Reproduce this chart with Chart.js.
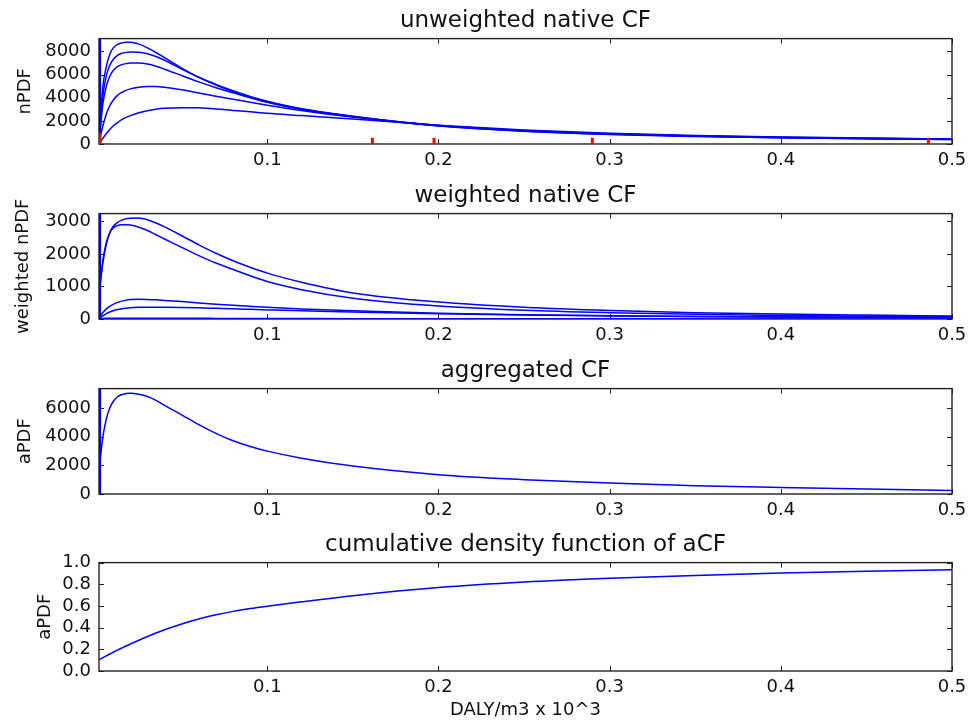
<!DOCTYPE html>
<html>
<head>
<meta charset="utf-8">
<script src="https://cdn.jsdelivr.net/npm/chart.js@4"></script>
<style>
  body { margin: 0; background: #fff; width: 977px; height: 721px; overflow: hidden; position: relative; }
  canvas { position: absolute; left: 0; }
</style>
</head>
<body>
<canvas id="c1" width="977" height="175" style="top:0px"></canvas>
<canvas id="c2" width="977" height="175" style="top:175px"></canvas>
<canvas id="c3" width="977" height="175" style="top:350px"></canvas>
<canvas id="c4" width="977" height="197" style="top:524px"></canvas>
<script>
/* =========================================================
   DATA
========================================================= */
const X_VALS = [0.002, 0.004, 0.006, 0.008, 0.01, 0.0125, 0.015, 0.0175, 0.02, 0.025, 0.03, 0.035, 0.04,
                0.05, 0.06, 0.07, 0.08, 0.09, 0.1, 0.12, 0.15, 0.2, 0.25, 0.3, 0.35, 0.4, 0.45, 0.5];
const X_TICKS = [0.1, 0.2, 0.3, 0.4, 0.5];
const X_TICK_LABELS = ["0.1", "0.2", "0.3", "0.4", "0.5"];

// unweighted native CF
const unwA = [800, 5000, 6700, 7750, 8300, 8600, 8730, 8780, 8780, 8620, 8300, 7900, 7450,
              6550, 5750, 5080, 4520, 4030, 3600, 3000, 2350, 1550, 1100, 820, 650, 530, 450, 380];
const unwB = [750, 4200, 5900, 6800, 7300, 7650, 7830, 7910, 7940, 7930, 7800, 7560, 7230,
              6470, 5760, 5150, 4600, 4110, 3700, 3050, 2400, 1580, 1130, 850, 670, 550, 460, 390];
const unwC = [650, 3500, 5000, 5850, 6350, 6680, 6850, 6940, 6985, 6990, 6900, 6710, 6460,
              5910, 5360, 4860, 4420, 4000, 3620, 3020, 2380, 1590, 1140, 860, 680, 560, 470, 400];
const unwD = [350, 1600, 2600, 3300, 3780, 4200, 4450, 4630, 4760, 4900, 4960, 4960, 4900,
              4680, 4400, 4130, 3870, 3600, 3350, 2900, 2330, 1600, 1160, 880, 700, 580, 490, 420];
const unwE = [100, 500, 900, 1250, 1550, 1850, 2100, 2300, 2450, 2700, 2880, 3000, 3080,
              3140, 3120, 3030, 2900, 2780, 2650, 2450, 2150, 1620, 1200, 920, 730, 600, 510, 440];
const RUG_X = [0.0022, 0.1614, 0.1974, 0.2899, 0.4862];
const RUG_H = [950, 550, 550, 550, 550];

// weighted native CF
const wA = [900, 1750, 2300, 2650, 2850, 2970, 3040, 3080, 3100, 3105, 3050, 2950, 2830,
            2560, 2280, 2020, 1790, 1590, 1410, 1130, 800, 520, 360, 260, 195, 150, 120, 95];
const wB = [900, 1800, 2350, 2650, 2800, 2870, 2895, 2900, 2890, 2820, 2720, 2590, 2460,
            2200, 1950, 1720, 1520, 1330, 1150, 900, 640, 400, 270, 195, 145, 110, 88, 70];
const wC = [60, 200, 310, 390, 450, 510, 550, 580, 598, 607, 600, 588, 572,
            535, 495, 457, 422, 390, 360, 310, 250, 175, 130, 100, 80, 65, 54, 45];
const wD = [30, 100, 165, 215, 255, 290, 315, 332, 345, 358, 364, 365, 363,
            355, 342, 327, 312, 296, 280, 250, 215, 160, 120, 95, 76, 62, 52, 44];
const wE = [10, 16, 20, 23, 25, 26, 26, 26, 26, 25, 25, 24, 24,
            22, 20, 19, 17, 16, 15, 13, 11, 8, 6, 5, 4, 3, 3, 2];

// aggregated CF
const aggr = [2000, 4000, 5250, 6000, 6450, 6780, 6930, 7010, 7030, 6960, 6800, 6530, 6180,
              5520, 4840, 4230, 3710, 3310, 2990, 2500, 1950, 1350, 1000, 760, 580, 450, 340, 250];

// cumulative density function
const cdf = [0.105, 0.123, 0.140, 0.157, 0.173, 0.193, 0.212, 0.231, 0.249, 0.284, 0.318, 0.350, 0.380,
             0.434, 0.480, 0.518, 0.550, 0.576, 0.598, 0.638, 0.695, 0.770, 0.821, 0.856, 0.882, 0.903, 0.920, 0.935];

const EDGE_X = 0.0022;

/* =========================================================
   HELPER
========================================================= */
const FONT = "DejaVu Sans";
const TXT = "#111";
const X_MIN = 0.0017, X_MAX = 0.5;

function pts(ys) {
  return X_VALS.map((x, i) => ({ x, y: ys[i] }));
}

function curve(ys) {
  return {
    data: pts(ys),
    borderColor: "#0000ff",
    borderWidth: 1.5,
    pointRadius: 0,
    cubicInterpolationMode: "monotone",
    fill: false
  };
}

function edgeLine(top) {
  return {
    data: [{ x: EDGE_X, y: 0 }, { x: EDGE_X, y: top }],
    borderColor: "#0000ff",
    borderWidth: 2.5,
    pointRadius: 0
  };
}

function rugMarks() {
  return RUG_X.map((x, i) => ({
    data: [{ x, y: 0 }, { x, y: RUG_H[i] }],
    borderColor: "#ff0000",
    borderWidth: 3,
    pointRadius: 0
  }));
}

// matplotlib style frame with ticks pointing inwards on all four sides
const frameTicks = {
  id: "frameTicks",
  beforeDatasetsDraw(chart) {
    const { ctx, chartArea: a, scales: { x, y } } = chart;
    ctx.save();
    ctx.strokeStyle = "#222";
    ctx.lineWidth = 1;
    ctx.beginPath();
    x.ticks.forEach(t => {
      const px = Math.round(x.getPixelForValue(t.value)) + 0.5;
      ctx.moveTo(px, a.bottom); ctx.lineTo(px, a.bottom - 5);
      ctx.moveTo(px, a.top); ctx.lineTo(px, a.top + 5);
    });
    y.ticks.forEach(t => {
      const py = Math.round(y.getPixelForValue(t.value)) + 0.5;
      ctx.moveTo(a.left, py); ctx.lineTo(a.left + 5, py);
      ctx.moveTo(a.right, py); ctx.lineTo(a.right - 5, py);
    });
    ctx.stroke();
    ctx.lineWidth = 1.4;
    ctx.strokeRect(a.left, a.top, a.right - a.left, a.bottom - a.top);
    ctx.restore();
  }
};

function makeChart(id, cfg) {
  return new Chart(document.getElementById(id), {
    type: "line",
    data: { datasets: cfg.datasets },
    plugins: [frameTicks],
    options: {
      responsive: false,
      animation: false,
      layout: { padding: { left: 0, right: 25, top: 0, bottom: 0 } },
      plugins: {
        legend: { display: false },
        tooltip: { enabled: false },
        title: {
          display: true,
          text: cfg.title,
          fullSize: false,
          color: TXT,
          font: { family: FONT, size: 23, weight: "normal" },
          padding: { top: 7, bottom: 4 }
        }
      },
      scales: {
        x: {
          type: "linear",
          min: X_MIN,
          max: X_MAX,
          grid: { display: false, drawTicks: false },
          border: { display: false },
          afterBuildTicks: s => { s.ticks = X_TICKS.map(v => ({ value: v })); },
          afterFit: s => { s.height = cfg.xHeight; },
          ticks: {
            autoSkip: false,
            maxRotation: 0,
            padding: 6,
            color: TXT,
            font: { family: FONT, size: 18 },
            callback: (v, i) => X_TICK_LABELS[i]
          },
          title: {
            display: !!cfg.xTitle,
            text: cfg.xTitle || "",
            color: TXT,
            font: { family: FONT, size: 18 },
            padding: { top: 0, bottom: 0 }
          }
        },
        y: {
          min: 0,
          max: cfg.yMax,
          grid: { display: false, drawTicks: false },
          border: { display: false },
          afterBuildTicks: s => { s.ticks = cfg.yTicks.map(v => ({ value: v })); },
          afterFit: s => { s.width = 99; },
          ticks: {
            autoSkip: false,
            padding: 8,
            color: TXT,
            font: { family: FONT, size: 18 },
            callback: (v, i) => cfg.yLabels[i]
          },
          title: {
            display: true,
            text: cfg.yTitle,
            color: TXT,
            font: { family: FONT, size: 18 },
            padding: { top: cfg.yTitlePad, bottom: 0 }
          }
        }
      }
    }
  });
}

/* =========================================================
   CHARTS
========================================================= */
makeChart("c1", {
  title: "unweighted native CF",
  yTitle: "nPDF",
  yTitlePad: 15,
  yMax: 9100,
  yTicks: [0, 2000, 4000, 6000, 8000],
  yLabels: ["0", "2000", "4000", "6000", "8000"],
  xHeight: 31,
  datasets: [...rugMarks(), edgeLine(9100), curve(unwA), curve(unwB), curve(unwC), curve(unwD), curve(unwE)]
});

makeChart("c2", {
  title: "weighted native CF",
  yTitle: "weighted nPDF",
  yTitlePad: 13,
  yMax: 3240,
  yTicks: [0, 1000, 2000, 3000],
  yLabels: ["0", "1000", "2000", "3000"],
  xHeight: 31,
  datasets: [edgeLine(3240), curve(wA), curve(wB), curve(wC), curve(wD), curve(wE)]
});

makeChart("c3", {
  title: "aggregated CF",
  yTitle: "aPDF",
  yTitlePad: 15,
  yMax: 7350,
  yTicks: [0, 2000, 4000, 6000],
  yLabels: ["0", "2000", "4000", "6000"],
  xHeight: 31,
  datasets: [edgeLine(7350), curve(aggr)]
});

makeChart("c4", {
  title: "cumulative density function of aCF",
  yTitle: "aPDF",
  yTitlePad: 35,
  yMax: 1,
  yTicks: [0, 0.2, 0.4, 0.6, 0.8, 1.0],
  yLabels: ["0.0", "0.2", "0.4", "0.6", "0.8", "1.0"],
  xHeight: 50,
  xTitle: "DALY/m3 x 10^3",
  datasets: [curve(cdf)]
});
</script>
</body>
</html>
